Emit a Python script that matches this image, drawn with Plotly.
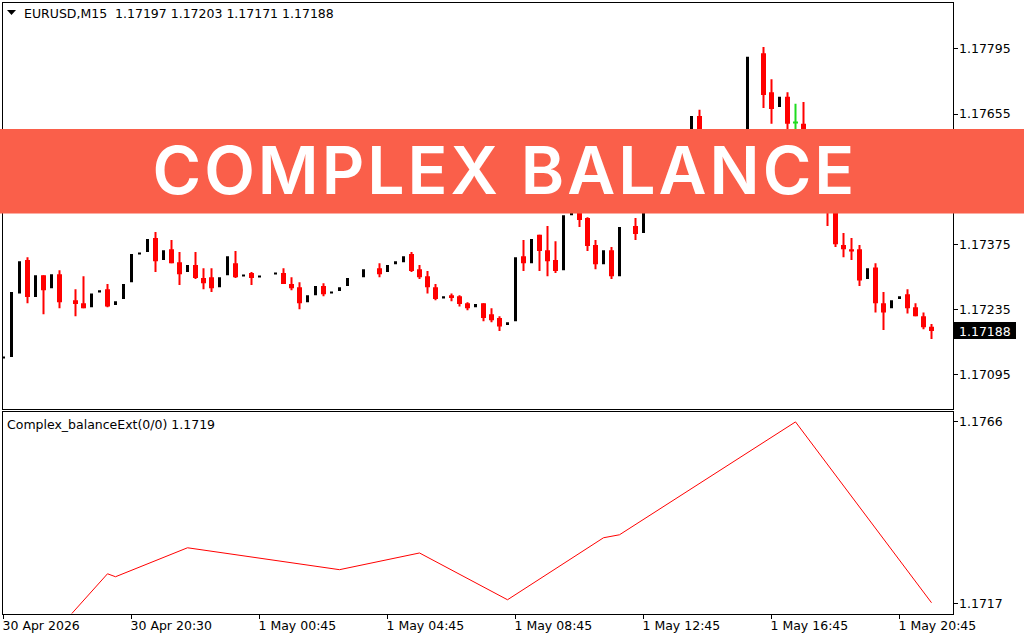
import plotly.graph_objects as go

W, H = 1024, 640

# bar number on the M15 chart, None = no candle drawn at that slot
open_ = [
    1.17129, 1.17132, 1.17269, 1.17341, 1.17261, 1.17308, 1.17280, 1.17310, None, 1.17254,
    1.17248, 1.17239, 1.17272, 1.17278, 1.17244, 1.17257, 1.17293, 1.17354, 1.17358, 1.17388,
    1.17341, 1.17364, 1.17336, 1.17315, 1.17330, 1.17302, 1.17304, 1.17282, 1.17308, 1.17334,
    1.17306, 1.17313, 1.17304, None, 1.17310, 1.17313, 1.17289, 1.17282, 1.17250, 1.17265,
    1.17285, 1.17269, 1.17274, 1.17285, None, 1.17304, None, 1.17323, 1.17315, 1.17332,
    1.17336, 1.17354, 1.17321, 1.17306, 1.17282, 1.17259, 1.17265, 1.17263, 1.17248, 1.17239,
    1.17248, 1.17224, 1.17216, 1.17201, 1.17209, 1.17349, 1.17334, 1.17395, 1.17362, 1.17341,
    1.17319, 1.17437, 1.17480, 1.17431, 1.17373, 1.17332, 1.17362, 1.17306, None, 1.17414,
    1.17399, 1.17470, 1.17505, 1.17490, 1.17540, 1.17570, 1.17555, 1.17651, 1.17575, 1.17590,
    1.17550, 1.17510, 1.17560, 1.17600, None, 1.17786, 1.17702, 1.17670, 1.17692, 1.17635,
    1.17634, 1.17570, 1.17520, 1.17480, 1.17445, 1.17373, 1.17364, 1.17364, 1.17300, 1.17325,
    1.17248, 1.17237, 1.17257, 1.17267, 1.17239, 1.17220, 1.17197,
]
close = [
    1.17132, 1.17272, 1.17338, 1.17261, 1.17308, 1.17276, 1.17310, 1.17250, None, 1.17246,
    1.17237, 1.17269, 1.17276, 1.17241, 1.17252, 1.17289, 1.17354, 1.17356, 1.17386, 1.17338,
    1.17362, 1.17334, 1.17310, 1.17330, 1.17302, 1.17291, 1.17280, 1.17304, 1.17349, 1.17304,
    1.17308, 1.17302, 1.17306, None, 1.17313, 1.17289, 1.17280, 1.17248, 1.17265, 1.17285,
    1.17267, 1.17272, 1.17282, 1.17302, None, 1.17321, None, 1.17310, 1.17330, 1.17338,
    1.17349, 1.17317, 1.17304, 1.17282, 1.17257, 1.17263, 1.17259, 1.17246, 1.17237, 1.17246,
    1.17216, 1.17211, 1.17198, 1.17207, 1.17347, 1.17334, 1.17386, 1.17360, 1.17338, 1.17317,
    1.17437, 1.17470, 1.17427, 1.17371, 1.17332, 1.17362, 1.17306, 1.17412, None, 1.17397,
    1.17470, 1.17505, 1.17490, 1.17540, 1.17570, 1.17555, 1.17651, 1.17575, 1.17590, 1.17550,
    1.17510, 1.17560, 1.17600, 1.17778, None, 1.17696, 1.17666, 1.17692, 1.17634, 1.17637,
    1.17570, 1.17520, 1.17480, 1.17445, 1.17375, 1.17364, 1.17360, 1.17297, 1.17323, 1.17248,
    1.17228, 1.17254, 1.17263, 1.17237, 1.17220, 1.17196, 1.17188,
]
high = [
    1.17132, 1.17272, 1.17338, 1.17347, 1.17308, 1.17308, 1.17310, 1.17319, None, 1.17278,
    1.17306, 1.17269, 1.17276, 1.17289, 1.17252, 1.17289, 1.17354, 1.17356, 1.17386, 1.17401,
    1.17362, 1.17384, 1.17358, 1.17330, 1.17358, 1.17323, 1.17323, 1.17304, 1.17349, 1.17360,
    1.17308, 1.17315, 1.17306, None, 1.17313, 1.17323, 1.17304, 1.17293, 1.17265, 1.17285,
    1.17291, 1.17272, 1.17282, 1.17302, None, 1.17321, None, 1.17334, 1.17330, 1.17338,
    1.17349, 1.17358, 1.17330, 1.17317, 1.17289, 1.17263, 1.17269, 1.17265, 1.17250, 1.17246,
    1.17248, 1.17237, 1.17220, 1.17207, 1.17347, 1.17384, 1.17386, 1.17395, 1.17414, 1.17381,
    1.17437, 1.17470, 1.17500, 1.17433, 1.17384, 1.17362, 1.17369, 1.17412, None, 1.17431,
    1.17470, 1.17505, 1.17520, 1.17540, 1.17570, 1.17590, 1.17651, 1.17664, 1.17590, 1.17600,
    1.17565, 1.17560, 1.17600, 1.17778, None, 1.17799, 1.17730, 1.17692, 1.17702, 1.17677,
    1.17681, 1.17590, 1.17540, 1.17500, 1.17460, 1.17399, 1.17388, 1.17373, 1.17323, 1.17334,
    1.17272, 1.17254, 1.17263, 1.17278, 1.17248, 1.17228, 1.17203,
]
low = [
    1.17129, 1.17132, 1.17269, 1.17248, 1.17261, 1.17224, 1.17280, 1.17237, None, 1.17220,
    1.17237, 1.17239, 1.17272, 1.17239, 1.17244, 1.17257, 1.17293, 1.17354, 1.17358, 1.17315,
    1.17341, 1.17334, 1.17287, 1.17315, 1.17300, 1.17278, 1.17272, 1.17282, 1.17308, 1.17302,
    1.17306, 1.17287, 1.17304, None, 1.17310, 1.17289, 1.17276, 1.17235, 1.17250, 1.17265,
    1.17263, 1.17269, 1.17274, 1.17285, None, 1.17304, None, 1.17304, 1.17315, 1.17332,
    1.17336, 1.17315, 1.17300, 1.17269, 1.17254, 1.17259, 1.17252, 1.17241, 1.17233, 1.17239,
    1.17209, 1.17207, 1.17188, 1.17201, 1.17209, 1.17317, 1.17334, 1.17317, 1.17306, 1.17313,
    1.17319, 1.17437, 1.17412, 1.17360, 1.17321, 1.17332, 1.17300, 1.17306, None, 1.17384,
    1.17399, 1.17470, 1.17480, 1.17490, 1.17540, 1.17545, 1.17555, 1.17560, 1.17575, 1.17540,
    1.17500, 1.17510, 1.17560, 1.17600, None, 1.17668, 1.17634, 1.17670, 1.17610, 1.17600,
    1.17560, 1.17500, 1.17460, 1.17414, 1.17369, 1.17347, 1.17341, 1.17285, 1.17300, 1.17228,
    1.17190, 1.17237, 1.17257, 1.17226, 1.17220, 1.17192, 1.17171,
]
doji_bars = [99]  # the one green candle

line_bars = [8, 13, 14, 23, 42, 52, 63, 75, 77, 99, 116]
line_values = [1.17131, 1.17251, 1.17243, 1.17321, 1.17262, 1.17307, 1.17181, 1.17348, 1.17356, 1.17660, 1.17173]

price_ticks = [1.17795, 1.17655, 1.17515, 1.17375, 1.17235, 1.17095]
price_labels = ["1.17795", "1.17655", "1.17515", "1.17375", "1.17235", "1.17095"]
ind_ticks = [1.1766, 1.1717]
ind_labels = ["1.1766", "1.1717"]
time_ticks = [0, 16, 32, 48, 64, 80, 96, 112]
time_labels = ["30 Apr 2026", "30 Apr 20:30", "1 May 00:45", "1 May 04:45",
               "1 May 08:45", "1 May 12:45", "1 May 16:45", "1 May 20:45"]

header = "EURUSD,M15\u00a0\u00a01.17197 1.17203 1.17171 1.17188"
ind_header = "Complex_balanceExt(0/0) 1.1719"
last_price = "1.17188"
title = "COMPLEX BALANCE"

UI_FONT = "DejaVu Sans"
UI_SIZE = 12.5


def pick(cond):
    idx = [i for i in range(len(open_)) if open_[i] is not None and cond(i)]
    return idx


def bodies(idx, color, w):
    return go.Bar(
        x=idx,
        y=[abs(close[i] - open_[i]) for i in idx],
        base=[min(open_[i], close[i]) for i in idx],
        width=w, marker=dict(color=color, line=dict(width=0)), yaxis="y", xaxis="x",
    )


def wicks(idx, color):
    # thinner than a pixel on purpose: plotly widens very thin bars to one whole pixel
    return go.Bar(
        x=idx,
        y=[high[i] - low[i] for i in idx],
        base=[low[i] for i in idx],
        width=0.1, marker=dict(color=color, line=dict(width=0)), yaxis="y", xaxis="x",
    )


up = pick(lambda i: close[i] > open_[i] and i not in doji_bars)
down = pick(lambda i: close[i] < open_[i] and i not in doji_bars)

fig = go.Figure()
fig.add_trace(wicks(down, "#ff0000"))
fig.add_trace(wicks(doji_bars, "#1fdc1f"))
fig.add_trace(bodies(up, "#000000", 3 / 8))
fig.add_trace(bodies(down, "#ff0000", 5 / 8))
fig.add_trace(bodies(doji_bars, "#1fdc1f", 5 / 8))
fig.add_trace(go.Scatter(x=line_bars, y=line_values, mode="lines",
                         line=dict(color="#ff0000", width=1),
                         xaxis="x2", yaxis="y2", cliponaxis=True))

axis_font = dict(family=UI_FONT, size=UI_SIZE, color="black")
# 8 px per bar, so the 1 px wicks land on whole pixels
x_range = [-0.125, 118.625]
x_domain = [2.5 / W, 952.5 / W]

fig.update_layout(
    template="none",
    width=W, height=H,
    margin=dict(l=0, r=0, t=0, b=0, pad=0, autoexpand=False),
    paper_bgcolor="white", plot_bgcolor="white",
    showlegend=False, barmode="overlay",
    xaxis=dict(domain=x_domain, range=x_range, anchor="y", showgrid=False, zeroline=False,
               showticklabels=False, ticks="", showline=True, linecolor="black",
               linewidth=1, mirror=True, automargin=False),
    yaxis=dict(domain=[1 - 409.3 / H, 1 - 2.5 / H], range=[1.170196, 1.17895], side="right",
               anchor="x", tickvals=price_ticks, ticktext=price_labels, ticks="outside",
               ticklen=4, tickcolor="black", tickfont=axis_font, showgrid=False, automargin=False,
               ticklabelstandoff=-1,
               zeroline=False, showline=True, linecolor="black", linewidth=1, mirror=True),
    xaxis2=dict(domain=x_domain, range=x_range, anchor="y2", showgrid=False, zeroline=False,
                tickvals=time_ticks, ticktext=time_labels, ticks="outside", ticklen=4,
                tickcolor="black", tickfont=axis_font, ticklabelposition="outside right",
                ticklabelshift=-2,
                showline=True, linecolor="black", linewidth=1, mirror=True, automargin=False),
    yaxis2=dict(domain=[1 - 613.5 / H, 1 - 411.5 / H], range=[1.17144, 1.17688], side="right",
                anchor="x2", tickvals=ind_ticks, ticktext=ind_labels, ticks="outside",
                ticklen=4, tickcolor="black", tickfont=axis_font, showgrid=False, automargin=False,
                ticklabelstandoff=-1,
                zeroline=False, showline=True, linecolor="black", linewidth=1, mirror=True),
)

# last price tag, chart-window triangle, title band
fig.add_shape(type="rect", xref="paper", yref="paper", x0=954 / W, x1=1016 / W,
              y0=1 - 339 / H, y1=1 - 322 / H, fillcolor="black", line_width=0, layer="above")
fig.add_shape(type="path", xref="paper", yref="paper", layer="above", line_width=0,
              fillcolor="black",
              path=f"M {7 / W} {1 - 10 / H} L {16 / W} {1 - 10 / H} L {11.5 / W} {1 - 15 / H} Z")
fig.add_shape(type="rect", xref="paper", yref="paper", x0=0, x1=1,
              y0=1 - 213.5 / H, y1=1 - 129 / H, fillcolor="#fa5f4a", line_width=0, layer="above")


def label(text, x, y, font, color="black", anchor="left"):
    fig.add_annotation(text=text, xref="paper", yref="paper", x=x / W, y=1 - y / H,
                       xanchor=anchor, yanchor="middle", showarrow=False,
                       font=dict(family=font, size=UI_SIZE, color=color) if isinstance(font, str) else font)


label(header, 22, 13.5, UI_FONT)
label(ind_header, 5, 424, UI_FONT)
label(last_price, 957, 331, UI_FONT, color="white")
label(title, 505, 169.5, dict(family="Inter", size=66, color="white", weight=600), anchor="center")

# the band's lettering is wider than Inter, open it up a little
widen = """
document.body.style.margin='0';
document.querySelectorAll('.annotation-text').forEach(function (t) {
  if (t.textContent.indexOf('COMPLEX') === 0) { t.style.letterSpacing = '3px'; }
});
"""
fig.write_html("out.html", config={"displayModeBar": False}, post_script=widen)
